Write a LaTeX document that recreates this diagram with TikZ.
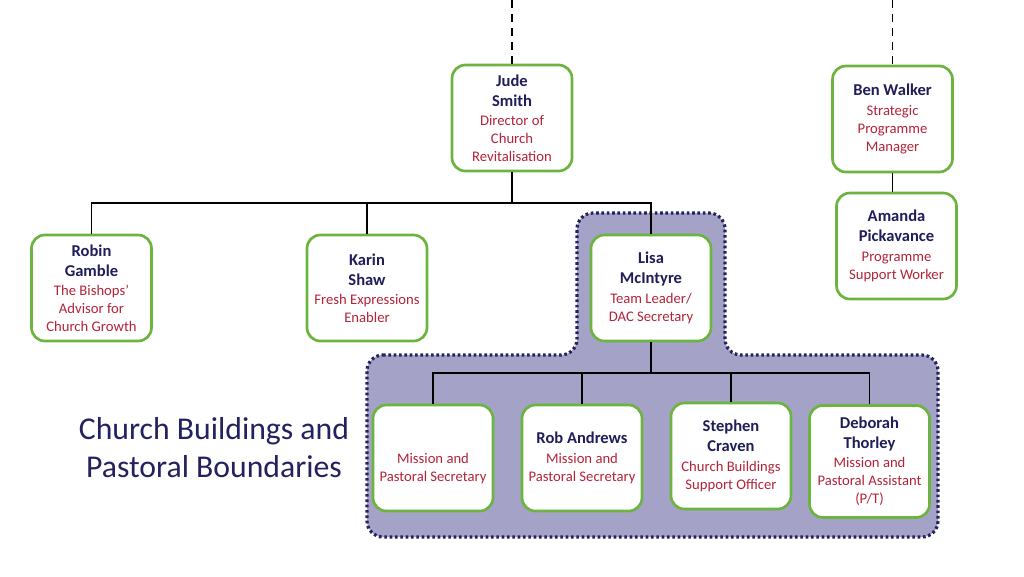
\documentclass[tikz,border=0pt]{standalone}
\usepackage{fontspec}
\setmainfont{Carlito}
\definecolor{boxgreen}{HTML}{6CB33F}
\definecolor{namec}{HTML}{1F1D5A}
\definecolor{titlec}{HTML}{B3243A}
\definecolor{teamfill}{HTML}{A4A2C6}
\definecolor{teamline}{HTML}{25235F}
\definecolor{bigc}{HTML}{24225E}
\newcommand\pname[1]{{\fontsize{12.4}{13.5}\selectfont\bfseries\color{namec}#1}}
\newcommand\ptitle[1]{{\color{titlec}#1}}
\tikzset{
  box/.style={draw=boxgreen, line width=2pt, rounded corners=10pt, fill=white,
    minimum width=90pt, minimum height=79.5pt, align=center, inner sep=1pt,
    font=\fontsize{11}{13.5}\selectfont},
  conn/.style={draw=black, line width=1.3pt},
  dashconn/.style={draw=black, line width=1.3pt, dash pattern=on 6pt off 4.5pt},
  team/.style={fill=teamfill, draw=teamline, line width=2.4pt, dash pattern=on 2pt off 2pt, rounded corners=12pt}
}
\begin{document}
\begin{tikzpicture}[x=0.75pt,y=-0.75pt]
\useasboundingbox[fill=white] (0,0) rectangle (1024,576);
% shaded team area
\path[team] (367,355) -- (577,355) -- (577,213) -- (725,213) -- (725,355) -- (938,355) -- (938,537) -- (367,537) -- cycle;
% nodes
\node[box] (jude) at (512,118) {\pname{Jude}\\[1.5pt]\pname{Smith}\\[1pt]\ptitle{Director of}\\\ptitle{Church}\\\ptitle{Revitalisation}};
\node[box] (ben) at (892.5,119) {\pname{Ben Walker}\\[1pt]\ptitle{Strategic}\\\ptitle{Programme}\\\ptitle{Manager}};
\node[box] (amanda) at (896.5,246) {\pname{Amanda}\\[1.5pt]\pname{Pickavance}\\[1pt]\ptitle{Programme}\\\ptitle{Support Worker}};
\node[box] (robin) at (91.5,288) {\pname{Robin}\\[1.5pt]\pname{Gamble}\\[1pt]\ptitle{The Bishops’}\\\ptitle{Advisor for}\\\ptitle{Church Growth}};
\node[box] (karin) at (367,288) {\pname{Karin}\\[1.5pt]\pname{Shaw}\\[1pt]\ptitle{Fresh Expressions}\\\ptitle{Enabler}};
\node[box] (lisa) at (651,288) {\pname{Lisa}\\[1.5pt]\pname{McIntyre}\\[1pt]\ptitle{Team Leader/}\\\ptitle{DAC Secretary}};
\node[box] (mps) at (433,458) {\pname{\strut}\\[1pt]\ptitle{Mission and}\\\ptitle{Pastoral Secretary}};
\node[box] (rob) at (582,458) {\pname{Rob Andrews}\\[1pt]\ptitle{Mission and}\\\ptitle{Pastoral Secretary}};
\node[box] (stephen) at (731,456) {\pname{Stephen}\\[1.5pt]\pname{Craven}\\[1pt]\ptitle{Church Buildings}\\\ptitle{Support Officer}};
\node[box, minimum height=84pt] (deborah) at (869.5,461.5) {\pname{Deborah}\\[1.5pt]\pname{Thorley}\\[1pt]\ptitle{Mission and}\\\ptitle{Pastoral Assistant}\\\ptitle{(P/T)}};
\node[align=center, text=bigc, font=\fontsize{23.8}{28.5}\selectfont] (heading) at (214,448) {Church Buildings and\\Pastoral Boundaries};
% connectors
\coordinate (top1) at (512,0);
\coordinate (top2) at (892.5,0);
\coordinate (bus1) at (512,203);
\coordinate (bus2) at (651,373);
\draw[dashconn] (top1) -- (jude.north);
\draw[dashconn] (top2) -- (ben.north);
\draw[conn] (ben.south) -- (ben.south |- amanda.north);
\draw[conn] (jude.south) -- (bus1);
\draw[conn] (robin.north) |- (lisa.north |- bus1) -- (lisa.north);
\draw[conn] (karin.north) -- (karin.north |- bus1);
\draw[conn] (lisa.south) -- (bus2);
\draw[conn] (mps.north) |- (deborah.north |- bus2) -- (deborah.north);
\draw[conn] (rob.north) -- (rob.north |- bus2);
\draw[conn] (stephen.north) -- (stephen.north |- bus2);
\end{tikzpicture}
\end{document}
